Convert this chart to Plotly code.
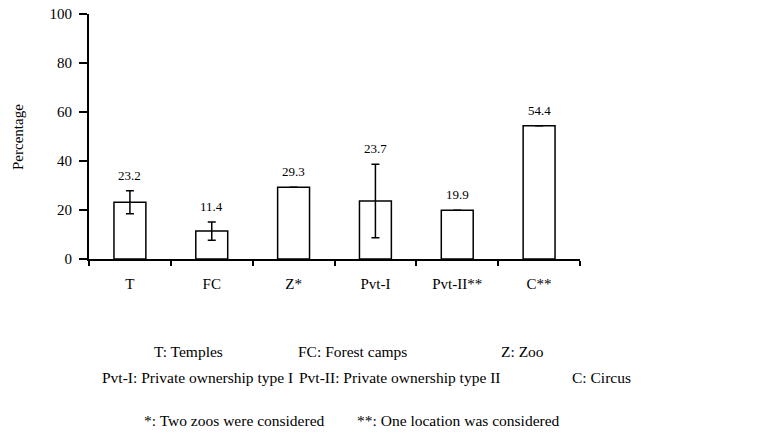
import plotly.graph_objects as go

categories = ["T", "FC", "Z*", "Pvt-I", "Pvt-II**", "C**"]
values = [23.2, 11.4, 29.3, 23.7, 19.9, 54.4]
errors = [4.7, 3.7, None, 15.0, None, None]
label_text = ["23.2", "11.4", "29.3", "23.7", "19.9", "54.4"]
y_ticks = [0, 20, 40, 60, 80, 100]

FONT = "Times New Roman, Liberation Serif, DejaVu Serif, serif"

fig = go.Figure()
fig.add_trace(go.Bar(
    x=categories, y=values, width=0.39,
    marker=dict(color="white", line=dict(color="black", width=1.5)),
    error_y=dict(type="data", array=errors, visible=True, color="black", thickness=1.5, width=4),
    showlegend=False, hoverinfo="skip",
))
# invisible trace carrying the tick-label axes
fig.add_trace(go.Scatter(
    x=categories, y=values, xaxis="x2", yaxis="y2", mode="markers",
    marker=dict(opacity=0), showlegend=False, hoverinfo="skip",
))

for c, v, e, t in zip(categories, values, errors, label_text):
    top = v + (e if e else 0)
    fig.add_annotation(x=c, y=top, text=t, showarrow=False, yanchor="bottom", yshift=6,
                       font=dict(family=FONT, size=13, color="black"))

# footnotes (paper coords, plot area x:89-580, y:14-259)
def px(x):
    return (x - 89) / 491.0
def py(y):
    return (259 - y) / 245.0

notes = [
    ("T: Temples", 152, 351),
    ("FC: Forest camps", 296, 351),
    ("Z: Zoo", 499, 351),
    ("Pvt-I: Private ownership type I", 100, 377),
    ("Pvt-II: Private ownership type II", 297, 377),
    ("C: Circus", 570, 377),
    ("*: Two zoos were considered", 142, 420),
    ("**: One location was considered", 355, 420),
]
for t, x, y in notes:
    fig.add_annotation(xref="paper", yref="paper", x=px(x), y=py(y), text=t, showarrow=False,
                       xanchor="left", yanchor="middle", font=dict(family=FONT, size=15.5, color="black"))

# y-axis title
fig.add_annotation(xref="paper", yref="paper", x=px(18), y=py(137), text="Percentage", showarrow=False,
                   textangle=-90, xanchor="center", yanchor="middle",
                   font=dict(family=FONT, size=15, color="black"))

xrange = [-0.5, len(categories) - 0.5]

fig.update_layout(
    width=770, height=437,
    margin=dict(l=89, r=190, t=14, b=178, autoexpand=False),
    plot_bgcolor="white", paper_bgcolor="white",
    font=dict(family=FONT, size=15, color="black"),
    xaxis=dict(type="category", categoryarray=categories, range=xrange,
               showline=True, linecolor="black", linewidth=1.5, ticks="outside", tickson="boundaries",
               ticklen=5, tickwidth=1.5, tickcolor="black", showgrid=False, zeroline=False,
               automargin=False, showticklabels=False, fixedrange=True),
    yaxis=dict(range=[0, 100], tickvals=y_ticks, showline=True, linecolor="black", linewidth=1.5,
               ticks="outside", ticklen=8, tickwidth=1.5, tickcolor="black", showgrid=False,
               zeroline=False, automargin=False, showticklabels=False, fixedrange=True),
    xaxis2=dict(type="category", categoryarray=categories, range=xrange, overlaying="x",
                anchor="y2", side="bottom", showline=False, ticks="", showgrid=False,
                zeroline=False, automargin=False, ticklabelstandoff=14,
                tickfont=dict(family=FONT, size=15), fixedrange=True),
    yaxis2=dict(range=[0, 100], tickvals=y_ticks, overlaying="y", anchor="x2", side="left",
                showline=False, ticks="", showgrid=False, zeroline=False, automargin=False,
                ticklabelstandoff=16, tickfont=dict(family=FONT, size=15), fixedrange=True),
    bargap=0.61,
)

fig.write_html("out.html", config={"displayModeBar": False},
               post_script="document.body.style.margin='0';")
